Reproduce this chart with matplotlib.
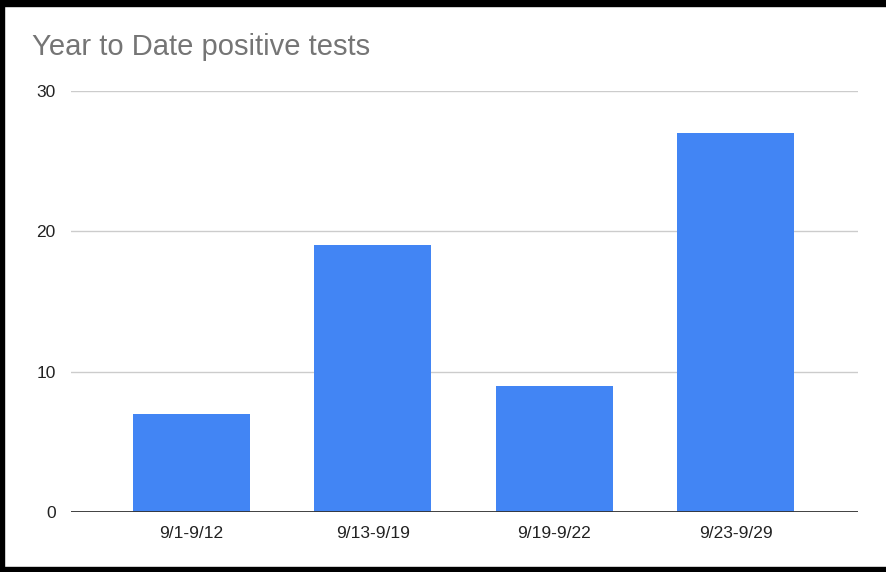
import matplotlib.pyplot as plt
from matplotlib.patches import Rectangle

categories = ["9/1-9/12", "9/13-9/19", "9/19-9/22", "9/23-9/29"]
positives = [7, 19, 9, 27]
yticks = [0, 10, 20, 30]

W, H = 886, 572
plt.rcParams['font.family'] = ['Liberation Sans', 'DejaVu Sans']

fig = plt.figure(figsize=(W / 100, H / 100), dpi=100)
ax = fig.add_axes([71 / W, 1 - 512 / H, (858 - 71) / W, (512 - 91) / H])

x = range(len(categories))
ax.bar(x, positives, width=0.645, color="#4285F4", zorder=3)

ax.set_xlim(-0.665, 3.675)
ax.set_ylim(0, 30)
ax.set_yticks(yticks)
ax.set_xticks(list(x))
ax.set_xticklabels(categories)
ax.grid(axis="y", color="#cccccc", linewidth=1, zorder=0)
ax.axhline(0, color="#333333", linewidth=1.3, zorder=4)

for s in ax.spines.values():
    s.set_visible(False)
ax.tick_params(axis="both", length=0, labelsize=12.5, colors="#222222")
ax.tick_params(axis="y", pad=11)
ax.tick_params(axis="x", pad=10)

fig.text(32 / W, 1 - 55 / H, "Year to Date positive tests", fontsize=21,
         color="#757575", ha="left", va="baseline")

# black frame from the screenshot
fig.patches.append(Rectangle((0, 1 - 6 / H), 1, 6 / H, transform=fig.transFigure,
                             color="black", zorder=10))
fig.patches.append(Rectangle((0, 0), 4 / W, 1, transform=fig.transFigure,
                             color="black", zorder=10))
fig.patches.append(Rectangle((0, 0), 1, 5 / H, transform=fig.transFigure,
                             color="black", zorder=10))

fig.savefig("out.png", dpi=100)
